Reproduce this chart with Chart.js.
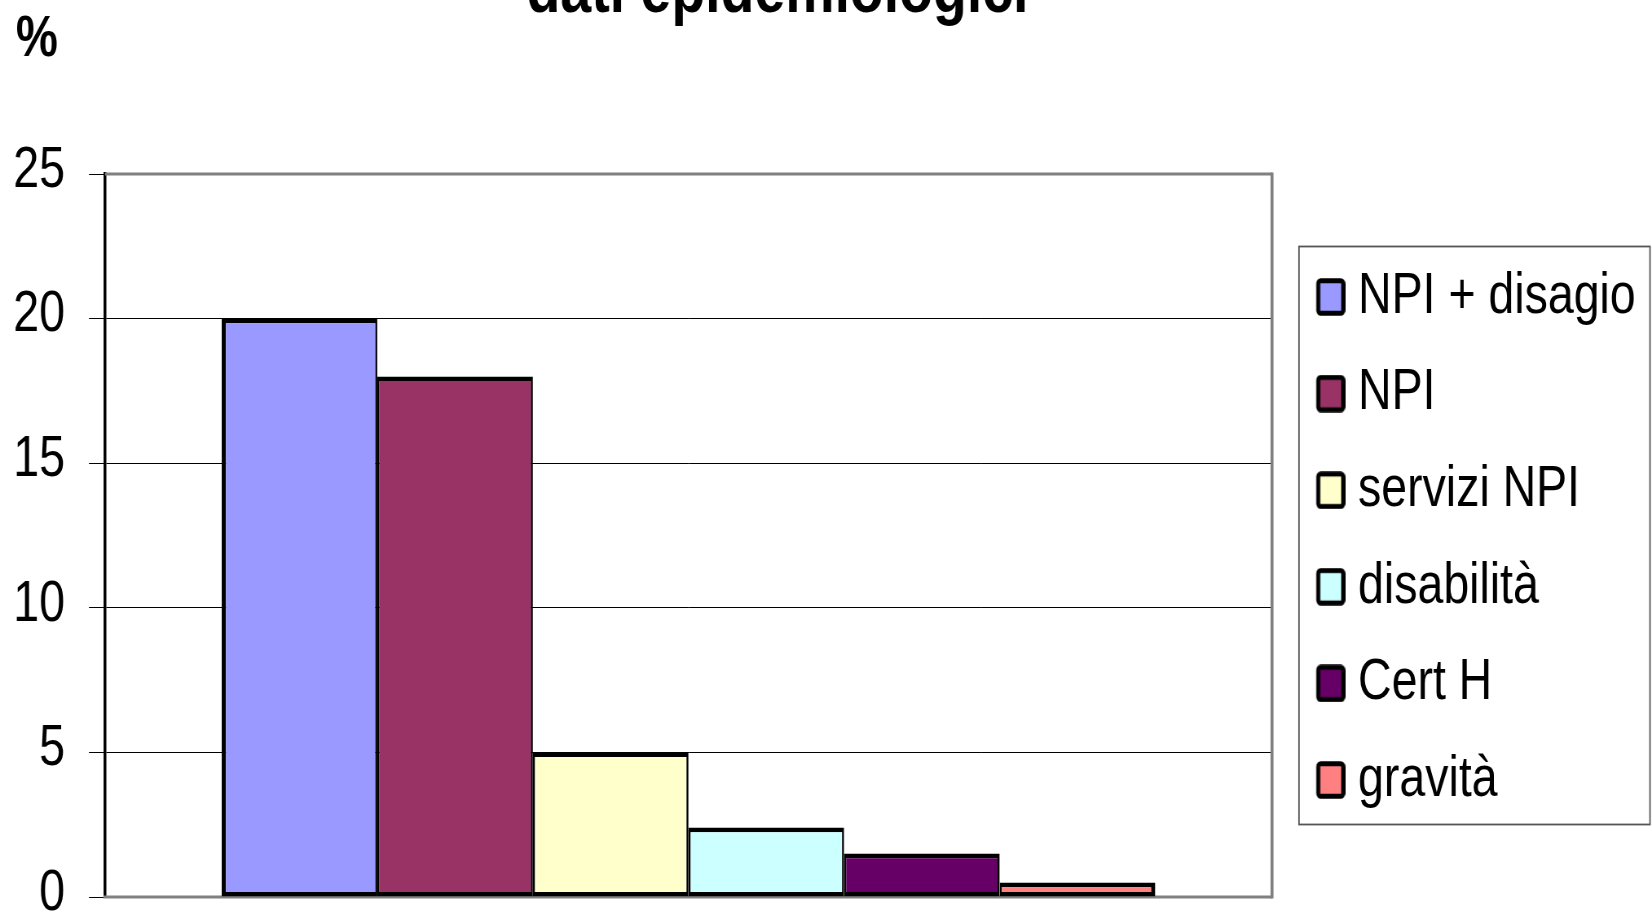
<!DOCTYPE html>
<html>
<head>
<meta charset="utf-8">
<script src="https://cdn.jsdelivr.net/npm/chart.js@4.4.1/dist/chart.umd.min.js"></script>
<style>
  html, body { margin: 0; padding: 0; background: #fff; overflow: hidden; }
  canvas { display: block; }
</style>
</head>
<body>
<canvas id="c"></canvas>
<script>
// ---- data ----
const chartTitle = 'dati epidemiologici';
const yUnit = '%';
const categories = [''];
const seriesNames = ['NPI + disagio', 'NPI', 'servizi NPI', 'disabilità', 'Cert H', 'gravità'];
const seriesValues = [20, 18, 5, 2.4, 1.5, 0.5];
const yTickValues = [0, 5, 10, 15, 20, 25];

// ---- styles / geometry ----
const seriesColors = ['#9999FF', '#993366', '#FFFFCC', '#CCFFFF', '#660066', '#FF8080'];
const FONT = '"Liberation Sans", Arial, sans-serif';
const FONT_SIZE = 57;
// the original picture is horizontally condensed: draw wider, display narrower
const K = 0.815;
const OUT_W = 1652, OUT_H = 912;
const IN_W = Math.round(OUT_W / K);
const sx = v => v / K;           // reference x -> internal x

const canvas = document.getElementById('c');
canvas.width = IN_W;
canvas.height = OUT_H;
canvas.style.width = OUT_W + 'px';
canvas.style.height = OUT_H + 'px';

const PLOT_LEFT = sx(105), PLOT_RIGHT = sx(1272);
const LEG_PAD = 39.6, LEG_BOX = 37.5;

function makeSwatch(color) {
  const c = document.createElement('canvas');
  c.width = 63; c.height = 38;
  const g = c.getContext('2d');
  g.beginPath();
  if (g.roundRect) g.roundRect(29.9, 2.7, 30.6, 32.6, 3); else g.rect(29.9, 2.7, 30.6, 32.6);
  g.fillStyle = color;
  g.fill();
  g.lineWidth = 5;
  g.strokeStyle = '#000';
  g.stroke();
  return c;
}
const swatches = seriesColors.map(makeSwatch);

// measure the widest legend text so the plot area ends where the original one does
const mctx = document.createElement('canvas').getContext('2d');
mctx.font = FONT_SIZE + 'px ' + FONT;
const widest = Math.max(...seriesNames.map(s => mctx.measureText(s).width));
const legendW = LEG_PAD + LEG_BOX + FONT_SIZE / 2 + widest + 10;
const padRight = Math.max(0, IN_W - PLOT_RIGHT - legendW);

const n = seriesNames.length;
const datasets = seriesNames.map((name, i) => ({
  label: name,
  data: [seriesValues[i]],
  backgroundColor: seriesColors[i],
  borderColor: '#000',
  borderWidth: {
    top: 4.6, bottom: 4.6,
    left: i === 0 ? 5.2 : 2.6,
    right: i === n - 1 ? 5.2 : 2.6
  },
  borderSkipped: false,
  categoryPercentage: 0.8,
  barPercentage: 1.0
}));

const framePlugin = {
  id: 'frame',
  beforeDatasetsDraw(chart) {
    const {ctx, chartArea: a} = chart;
    ctx.save();
    ctx.strokeStyle = '#808080';
    ctx.lineWidth = 3;
    ctx.beginPath();
    ctx.moveTo(a.left, a.top);
    ctx.lineTo(a.right, a.top);
    ctx.moveTo(a.right, a.bottom);
    ctx.lineTo(a.left - 2, a.bottom);
    ctx.stroke();
    ctx.lineWidth = 3.7;
    ctx.beginPath();
    ctx.moveTo(a.right, a.top - 1.5);
    ctx.lineTo(a.right, a.bottom + 1.5);
    ctx.stroke();
    ctx.restore();
  },
  afterDraw(chart) {
    const {ctx} = chart;
    const lg = chart.legend;
    const hb = lg.legendHitBoxes;
    ctx.save();
    if (hb && hb.length) {
      const top = hb[0].top - 22;
      const last = hb[hb.length - 1];
      const bottom = last.top + last.height + 16;
      const left = lg.left + sx(27);
      ctx.strokeStyle = '#555';
      ctx.lineWidth = 1.8;
      ctx.strokeRect(left, top, sx(1650) - left, bottom - top);
    }
    ctx.fillStyle = '#000';
    ctx.textBaseline = 'alphabetic';
    ctx.textAlign = 'center';
    ctx.font = 'bold 68px ' + FONT;
    ctx.fillText(chartTitle, sx(777.5), 12);
    ctx.textAlign = 'left';
    ctx.font = 'bold 58px ' + FONT;
    ctx.fillText(yUnit, 19.5, 56);
    ctx.restore();
  }
};

new Chart(canvas, {
  type: 'bar',
  data: { labels: categories, datasets },
  options: {
    responsive: false,
    devicePixelRatio: 1,
    animation: false,
    layout: { padding: { left: 0, right: padRight, top: 174, bottom: 15 } },
    plugins: {
      title: { display: false },
      tooltip: { enabled: false },
      legend: {
        display: true,
        position: 'right',
        fullSize: false,
        align: 'center',
        title: { display: true, text: '', font: { size: 1 }, padding: 2.4 },
        labels: {
          font: { family: FONT, size: FONT_SIZE },
          color: '#000',
          padding: LEG_PAD,
          usePointStyle: true,
          pointStyleWidth: LEG_BOX,
          generateLabels(chart) {
            return chart.data.datasets.map((ds, i) => ({
              text: ds.label,
              fillStyle: ds.backgroundColor,
              strokeStyle: '#000',
              lineWidth: 3,
              pointStyle: swatches[i],
              fontColor: '#000',
              hidden: !chart.isDatasetVisible(i),
              datasetIndex: i
            }));
          }
        }
      }
    },
    scales: {
      x: {
        display: false,
        offset: true
      },
      y: {
        min: 0,
        max: 25,
        afterBuildTicks(scale) {
          scale.ticks = yTickValues.map(v => ({ value: v }));
        },
        afterFit(scale) {
          scale.width = PLOT_LEFT;
          scale.paddingTop = 0;
          scale.paddingBottom = 0;
        },
        ticks: {
          font: { family: FONT, size: FONT_SIZE },
          color: '#000',
          padding: 29.6,
          labelOffset: -3
        },
        grid: {
          color: '#000',
          lineWidth: 1,
          tickLength: sx(16),
          tickColor: '#000',
          tickWidth: 1
        },
        border: { display: true, color: '#000', width: 3.5 }
      }
    }
  },
  plugins: [framePlugin]
});
</script>
</body>
</html>
